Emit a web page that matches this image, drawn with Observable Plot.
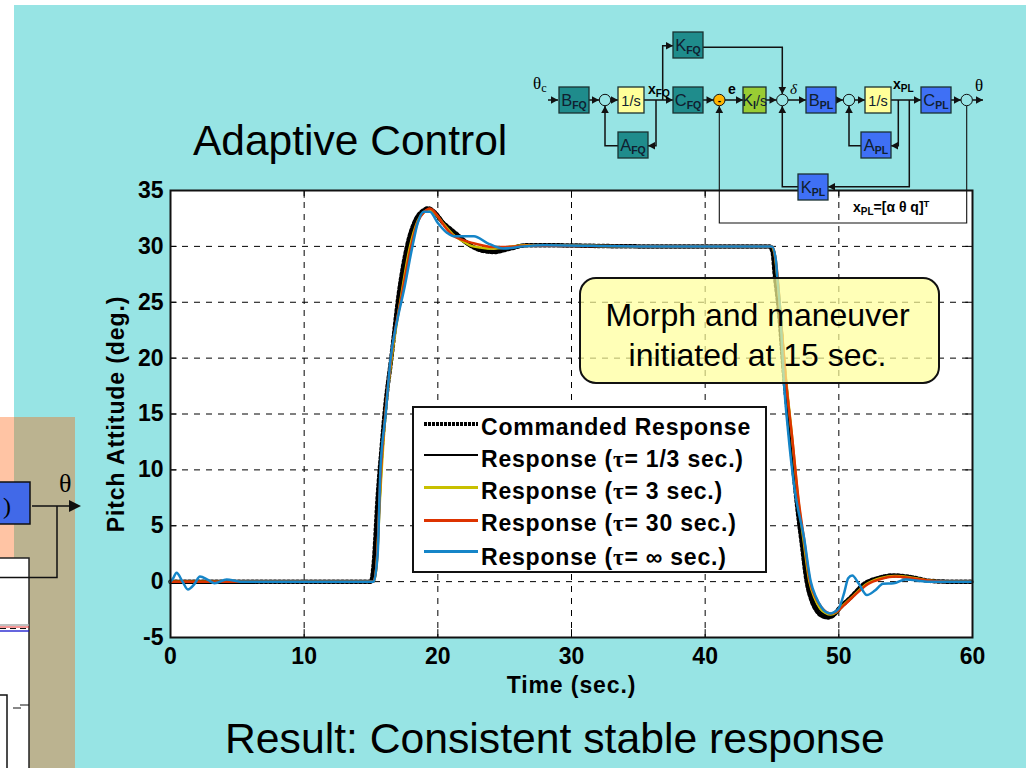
<!DOCTYPE html>
<html><head><meta charset="utf-8">
<script src="https://cdn.jsdelivr.net/npm/d3@7"></script>
<script src="https://cdn.jsdelivr.net/npm/@observablehq/plot@0.6"></script>
<style>
html,body{margin:0;padding:0;background:#fff;overflow:hidden}
#root{position:relative;width:1026px;height:768px;overflow:hidden;background:#fff;font-family:"Liberation Sans",Arial,sans-serif;color:#000}
#root>*{position:absolute}
#bg{left:14px;top:5px;width:1012px;height:763px;background:#97e4e4}
#peach{left:0;top:417px;width:14px;height:351px;background:#ffc4a4}
#tan{left:14px;top:417px;width:61px;height:351px;background:#bbb390}
#title{left:193px;top:116px;font-size:42.5px;line-height:50px;white-space:nowrap}
#result{left:225px;top:713px;font-size:42.7px;line-height:50px;white-space:nowrap}
#legend{left:412px;top:406px;width:351px;height:163px;border:2px solid #111;background:#fff}
.lg{position:absolute;left:67px;font-weight:bold;font-size:23px;letter-spacing:.8px;white-space:nowrap;line-height:26px}
.lg .s{font-family:"Liberation Serif","DejaVu Serif",serif}
.sw{position:absolute;left:10px;width:54px}
#callout{left:579px;top:277px;width:357px;height:103px;border:2px solid #111;border-radius:17px;background:rgba(255,255,153,.7);font-size:32px;line-height:40px;text-align:center}
#callout div{position:relative;top:16px;left:-2px}
</style></head><body>
<div id="root">
<div id="bg"></div><div id="peach"></div><div id="tan"></div>
<svg id="left" width="100" height="768" style="left:0;top:0"></svg>
<div id="plotHost" style="left:0;top:0"></div>
<div id="title">Adaptive Control</div>
<div id="result">Result: Consistent stable response</div>
<div id="legend"></div>
<div id="callout"><div>Morph and maneuver<br>initiated at 15 sec.</div></div>
<svg id="diagram" width="1026" height="240" style="left:0;top:0"></svg>
</div>
<script>
const xTicks = [0,10,20,30,40,50,60];
const yTicks = [-5,0,5,10,15,20,25,30,35];

const commandT = [0,15,15.2,15.5,15.8,16.1,16.5,17.1,17.7,18.35,18.9,19.3,19.8,20.4,21,21.5,22.1,22.7,23.4,24.2,25.4,26.6,28,35,44.8,45.05,45.2,45.5,45.9,46.4,46.9,47.2,47.6,48,48.4,48.8,49.2,49.6,50.1,50.9,51.9,52.9,54.1,55.4,56.6,58,60];
const commandV = [0,0,1.5,7.5,12,16,19.8,25.9,30,32.4,33.2,33.4,33,32.1,31.5,31,30.4,29.9,29.6,29.5,29.8,30.1,30.1,30,30,29.5,27.6,24.5,18.6,12.6,6.6,3.7,0,-1.8,-2.7,-3.1,-3.2,-3,-2.3,-1.4,-0.2,0.3,0.55,0.4,0.1,0,0];

const tau13T = [0,15.1,15.3,15.6,16,16.5,17.15,17.75,18.4,18.95,19.3,19.9,20.5,21.1,21.7,22.4,23.1,24,25,26.5,28,35,44.9,45.15,45.3,45.6,46,46.5,47,47.3,47.7,48.1,48.5,48.9,49.3,49.7,50.2,51,52,53,54.2,55.5,56.7,58,60];
const tau13V = [0,0,0.8,6,14.5,19.8,25.6,29.8,32.4,33.2,33.35,32.9,32.1,31.3,30.6,30,29.8,29.6,29.8,30.1,30.1,30,30,29.6,28,24.5,18.8,12.8,6.8,3.8,0.2,-1.6,-2.5,-2.9,-3.05,-2.85,-2.2,-1.3,-0.15,0.3,0.5,0.35,0.1,0,0];

const tau3T = [0,15.2,15.4,15.7,16.1,16.55,17.25,17.9,18.5,19,19.35,19.9,20.5,21.1,21.8,22.5,23.2,24,25,26.5,28,35,44.95,45.2,45.35,45.6,46,46.5,47,47.35,47.8,48.2,48.6,49,49.4,49.8,50.3,51.1,52.1,53.1,54.2,55.5,56.7,58,60];
const tau3V = [0,0,1.2,8,15.2,20,25.5,29.9,32.3,33.1,33.3,32.8,31.9,31.1,30.5,30.05,29.9,29.8,29.9,30.1,30.1,30,30,29.3,27.8,24.5,18.8,13,7,3.8,0,-1.5,-2.4,-2.8,-2.95,-2.75,-2.15,-1.25,-0.2,0.3,0.5,0.35,0.1,0,0];

const tau30T = [0,15.2,15.45,15.7,16.1,16.5,17.3,17.98,18.5,19,19.4,20,20.5,21.1,21.8,22.6,23.3,24.1,25,26.5,28,35,45,45.25,45.4,45.6,46,46.5,47,47.4,47.85,48.3,48.7,49.1,49.45,49.9,50.4,51.2,52.2,53.2,54.2,55.5,56.7,58,60];
const tau30V = [0,0,2,9,15.3,20,25.6,29.9,32.2,33.1,33.4,32.7,31.8,31,30.6,30.3,30.1,29.95,29.95,30.05,30.05,30,30,29,27.5,24.5,18.5,13,7.2,3.8,0,-1.5,-2.3,-2.75,-2.85,-2.65,-2.1,-1.2,-0.2,0.25,0.45,0.3,0.1,0,0];

const tauInfT = [0,0.2,0.45,0.9,1.3,1.8,2.2,2.8,3.3,4.2,5.2,15.2,15.5,15.7,16.1,16.45,17,17.45,18.1,18.5,18.95,19.4,20,20.7,21.2,21.7,22.7,23.7,24.9,26.4,28,35,45,45.3,45.4,45.6,45.9,46.2,46.7,47.4,47.9,48.3,48.7,49,49.4,49.7,50,50.4,50.7,51,51.5,52.1,52.7,53.3,54.1,55,56.6,60];
const tauInfV = [0,0.3,0.8,0,-0.7,-0.2,0.45,0.15,-0.15,0.2,0,0,2.5,9.9,15,19.8,23.6,26,30,32.1,33.1,33.1,32.1,31.2,30.9,30.9,30.9,30.3,29.8,30,30.1,30,30,28.7,27.2,24.5,17.7,13.5,8.2,3.9,0,-1.4,-2.3,-2.7,-2.85,-2.7,-2.4,-1,0.3,0.55,-0.2,-1.2,-0.8,-0.2,-0.15,0.2,0,0];

const zip = (t, v) => t.map((x, i) => ({x, y: v[i]}));
const line = (t, v, stroke, strokeWidth, extra = {}) =>
  Plot.line(zip(t, v), {x: "x", y: "y", curve: "monotone-x", stroke, strokeWidth, strokeLinejoin: "round", ...extra});

const tickLabel = {fontSize: 23, fontWeight: "bold", fill: "#000", tickSize: 0, label: null};
const axisTitle = {fontSize: 23, fontWeight: "bold", fill: "#000", lineAnchor: "middle"};
const plot = Plot.plot({
  width: 1026, height: 768,
  marginLeft: 170, marginRight: 54, marginTop: 190, marginBottom: 131,
  style: {background: "transparent", fontFamily: '"Liberation Sans",Arial,sans-serif', overflow: "visible"},
  x: {domain: [0, 60]},
  y: {domain: [-5, 35]},
  marks: [
    Plot.rect([{}], {x1: 0, x2: 60, y1: -5, y2: 35, fill: "#fff"}),
    Plot.ruleX(xTicks.slice(1, -1), {stroke: "#000", strokeWidth: 1, strokeDasharray: "6 6"}),
    Plot.ruleY(yTicks.slice(1, -1), {stroke: "#000", strokeWidth: 1, strokeDasharray: "6 6"}),
    Plot.ruleX(xTicks.slice(1, -1), {y1: -5, y2: -4.3, stroke: "#000"}),
    Plot.ruleX(xTicks.slice(1, -1), {y1: 34.3, y2: 35, stroke: "#000"}),
    Plot.ruleY(yTicks.slice(1, -1), {x1: 0, x2: 0.5, stroke: "#000"}),
    Plot.ruleY(yTicks.slice(1, -1), {x1: 59.5, x2: 60, stroke: "#000"}),
    line(commandT, commandV, "#000", 4.5, {strokeDasharray: "2 2.5"}),
    line(tau13T, tau13V, "#000", 2),
    line(tau3T, tau3V, "#c8c000", 2.5),
    line(tau30T, tau30V, "#dd3300", 2.5),
    line(tauInfT, tauInfV, "#1585c8", 2.5),
    Plot.frame({stroke: "#111", strokeWidth: 2}),
    Plot.axisX(xTicks, {...tickLabel, tickPadding: 10}),
    Plot.axisY(yTicks, {...tickLabel, tickPadding: 7, tickFormat: d => String(d)}),
    Plot.text(["Time (sec.)"], {...axisTitle, frameAnchor: "bottom", dy: 48}),
    Plot.text(["Pitch Attitude (deg.)"], {...axisTitle, frameAnchor: "left", dx: -54, rotate: -90, textAnchor: "middle"})
  ]
});
document.getElementById("plotHost").append(plot);
plot.querySelectorAll("text").forEach(t => {
  if (/sec\.\)|deg\.\)/.test(t.textContent)) t.style.letterSpacing = "0.9px";
});

/* legend */
const legendRows = [
  {label: 'Commanded Response', color: "#000", w: 4, dash: true},
  {label: 'Response (<span class="s">τ</span>= 1/3 sec.)', color: "#000", w: 2},
  {label: 'Response (<span class="s">τ</span>= 3 sec.)', color: "#c8c000", w: 3},
  {label: 'Response (<span class="s">τ</span>= 30 sec.)', color: "#dd3300", w: 3},
  {label: 'Response (<span class="s">τ</span>= ∞ sec.)', color: "#1585c8", w: 3}
];
const legendEl = document.getElementById("legend");
legendRows.forEach((r, i) => {
  const top = 6 + i * 32 + (i === 4 ? 2 : 0);
  const lineY = [16, 47, 79, 112, 143][i];
  const bar = r.dash
    ? `background:repeating-linear-gradient(90deg,#000 0 3px,transparent 3px 4px);height:${r.w}px`
    : `background:${r.color};height:${r.w}px`;
  legendEl.insertAdjacentHTML("beforeend",
    `<div class="sw" style="top:${lineY - r.w / 2}px;${bar}"></div>` +
    `<div class="lg" style="top:${top}px">${r.label}</div>`);
});

/* left fragment of the neighbouring slide */
const left = d3.select("#left");
left.append("rect").attr("x", -3).attr("y", 482).attr("width", 33).attr("height", 42).attr("fill", "#4169e8").attr("stroke", "#111").attr("stroke-width", 1.5);
left.append("text").attr("x", 3).attr("y", 514).attr("font-size", 24).attr("font-family", "Liberation Serif").text(")");
left.append("text").attr("x", 59).attr("y", 492).attr("font-size", 26).attr("font-family", "Liberation Serif").text("θ");
left.append("rect").attr("x", -3).attr("y", 558).attr("width", 32).attr("height", 220).attr("fill", "#fff").attr("stroke", "#222").attr("stroke-width", 1.5);
left.append("path").attr("d", "M32 506H70M57 506V577.5H0").attr("fill", "none").attr("stroke", "#111").attr("stroke-width", 1.5);
left.append("path").attr("d", "M69 500L81 506L69 512Z").attr("fill", "#111");
left.append("path").attr("d", "M0 625H29").attr("stroke", "#aaa").attr("stroke-width", 1.5);
left.append("path").attr("d", "M0 627H29").attr("stroke", "#e33").attr("stroke-width", 1);
left.append("path").attr("d", "M0 628.5H29").attr("stroke", "#111").attr("stroke-width", 1.2).attr("stroke-dasharray", "6 4");
left.append("path").attr("d", "M0 631H29").attr("stroke", "#11c").attr("stroke-width", 1.3);
left.append("path").attr("d", "M20 705H29M13 708H21").attr("stroke", "#111").attr("stroke-width", 1);
left.append("rect").attr("x", -3).attr("y", 695).attr("width", 10).attr("height", 80).attr("fill", "#fff").attr("stroke", "#111").attr("stroke-width", 1.5);

/* block diagram */
const teal = "#1f8c8c", yellow = "#ffff99", green = "#99cc33", blue = "#3f70f5";
const blocks = [
  {x:559, y:87, w:30, h:26, c:teal, t:"B", s:"FQ"},
  {x:618, y:87, w:26, h:26, c:yellow, t:"1/s", s:""},
  {x:618, y:132, w:30, h:26, c:teal, t:"A", s:"FQ"},
  {x:673, y:32, w:30, h:26, c:teal, t:"K", s:"FQ"},
  {x:673, y:87, w:30, h:26, c:teal, t:"C", s:"FQ"},
  {x:743, y:87, w:23, h:26, c:green, t:"K", s:"I", tail:"/s"},
  {x:806, y:87, w:30, h:26, c:blue, t:"B", s:"PL"},
  {x:865, y:87, w:26, h:26, c:yellow, t:"1/s", s:""},
  {x:861, y:132, w:30, h:26, c:blue, t:"A", s:"PL"},
  {x:921, y:87, w:30, h:26, c:blue, t:"C", s:"PL"},
  {x:798, y:174, w:30, h:26, c:blue, t:"K", s:"PL"}
];
const junctions = [
  {x:605, f:"#97e4e4"}, {x:719.3, f:"#ffb400"}, {x:782.3, f:"#97e4e4"}, {x:849, f:"#97e4e4"}, {x:966.7, f:"#97e4e4"}
];
const wires = [
  ["M548 100H558", 558,100,"r"], ["M589 100H599", 599,100,"r"], ["M611 100H618", 618,100,"r"],
  ["M644 100H673", 673,100,"r"], ["M662.7 100V45.7H673", 673,45.7,"r"],
  ["M656 100V145.7H648", 648,145.7,"l"], ["M618 145.7H605V106", 605,106,"u"],
  ["M703 47.3H782.3V94", 782.3,94,"d"], ["M703 100H713.5", 713.5,100,"r"],
  ["M725 100H743", 743,100,"r"], ["M766 100H776.5", 776.5,100,"r"], ["M788 100H806", 806,100,"r"],
  ["M836 100H843", 843,100,"r"], ["M855 100H865", 865,100,"r"], ["M891 100H921", 921,100,"r"],
  ["M898.3 100V145.7H891", 891,145.7,"l"], ["M861 145.7H849V106", 849,106,"u"],
  ["M909.3 100V186.7H828", 828,186.7,"l"], ["M798 186.7H782.3V106", 782.3,106,"u"],
  ["M951 100H961", 961,100,"r"], ["M972.5 100H983", 983,100,"r"]
];
const dia = d3.select("#diagram");
dia.append("path").attr("d", "M966.7 106V223H719.3V106").attr("fill", "none").attr("stroke", "#111").attr("stroke-width", 1.1);
const arrowRot = {r: 0, l: 180, u: 270, d: 90};
const arrow = "M0 0L-7 -3.8V3.8Z";
wires.forEach(([d, x, y, dir]) => {
  dia.append("path").attr("d", d).attr("fill", "none").attr("stroke", "#111").attr("stroke-width", 1.5);
  dia.append("path").attr("d", arrow).attr("fill", "#111").attr("transform", `translate(${x},${y}) rotate(${arrowRot[dir]})`);
});
dia.append("path").attr("d", arrow).attr("fill", "#111").attr("transform", "translate(719.3,106) rotate(270)");
junctions.forEach(j => dia.append("circle").attr("cx", j.x).attr("cy", 100).attr("r", 5.7).attr("fill", j.f).attr("stroke", "#111").attr("stroke-width", 1));
blocks.forEach(b => {
  dia.append("rect").attr("x", b.x).attr("y", b.y).attr("width", b.w).attr("height", b.h).attr("fill", b.c).attr("stroke", "#1a3030").attr("stroke-width", 1.3);
  const t = dia.append("text").attr("x", b.x + b.w / 2).attr("y", b.y + 18.5).attr("text-anchor", "middle").attr("font-size", b.c === yellow ? 14.5 : 16.5).attr("fill", "#102030");
  t.append("tspan").text(b.t);
  if (b.s) t.append("tspan").attr("dy", 3).attr("font-size", 10.5).attr("font-weight", "bold").text(b.s);
  if (b.tail) t.append("tspan").attr("dy", -3).attr("font-size", 14).text(b.tail);
});
const labelText = (x, y, size, weight, font, main, sub) => {
  const t = dia.append("text").attr("x", x).attr("y", y).attr("font-size", size).attr("font-weight", weight).attr("font-family", font);
  t.append("tspan").text(main);
  if (sub) t.append("tspan").attr("dy", 3).attr("font-size", size * 0.72).text(sub);
  return t;
};
const sans = "Liberation Sans", serif = "Liberation Serif";
labelText(533, 89, 17, "normal", serif, "θ", "c");
labelText(648, 94, 14, "bold", sans, "x", "FQ");
labelText(728, 94, 14, "bold", sans, "e");
labelText(790, 94, 15, "normal", serif, "δ").attr("font-style", "italic");
labelText(893, 89, 14, "bold", sans, "x", "PL");
labelText(975, 91, 17, "normal", serif, "θ");
dia.append("text").attr("x", 719.3).attr("y", 104).attr("text-anchor", "middle").attr("font-size", 10).attr("font-weight", "bold").text("-");
const eq = dia.append("text").attr("x", 853).attr("y", 212).attr("font-size", 14).attr("font-weight", "bold");
eq.append("tspan").text("x");
eq.append("tspan").attr("dy", 3).attr("font-size", 10).text("PL");
eq.append("tspan").attr("dy", -3).text("=[α θ q]");
eq.append("tspan").attr("dy", -5).attr("font-size", 9.5).text("T");
</script>
</body></html>
